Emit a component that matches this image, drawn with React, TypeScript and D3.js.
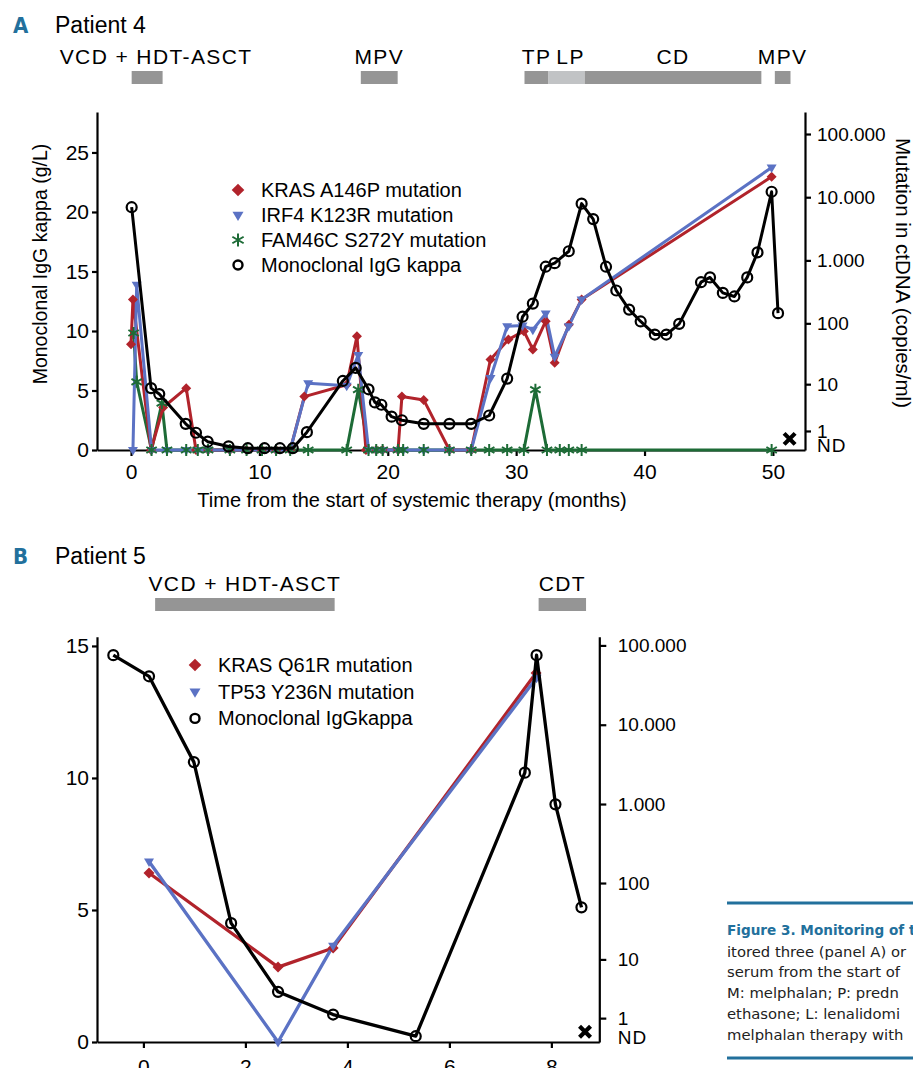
import * as d3 from 'd3';
import React, { useEffect, useRef } from 'react';

type Pt = [number, number];

// Patient 4 -- [month, value]; IgG kappa in g/L, mutations in copies/ml (0 = ND)
const igKappaA: Pt[] = [
    [0.05, 20.4], [1.56, 5.2], [2.2, 4.7], [4.26, 2.2], [5.06, 1.45], [5.97, 0.7],
    [7.6, 0.3], [9.1, 0.15], [10.4, 0.15], [11.6, 0.15], [12.6, 0.15], [13.7, 1.5],
    [16.5, 5.8], [17.5, 6.9], [18.5, 5.1], [19.0, 4.0], [19.5, 3.8], [20.3, 2.8],
    [21.1, 2.5], [22.8, 2.2], [24.8, 2.2], [26.5, 2.2], [27.9, 2.9], [29.3, 6.0],
    [30.5, 11.2], [31.3, 12.3], [32.3, 15.4], [33.0, 15.7], [34.1, 16.7], [35.1, 20.7],
    [36.0, 19.4], [37.0, 15.4], [37.8, 13.4], [38.8, 11.8], [39.7, 10.8], [40.8, 9.7],
    [41.7, 9.7], [42.7, 10.6], [44.4, 14.1], [45.1, 14.5], [46.1, 13.2], [47.0, 12.9],
    [48.0, 14.5], [48.8, 16.6], [49.9, 21.7], [50.4, 11.5],
];
const krasA146P: Pt[] = [
    [0.0, 46], [0.15, 240], [1.56, 0], [2.5, 3.7], [4.3, 8.5], [5.06, 0], [6.0, 0],
    [7.7, 0], [9.0, 0], [10.2, 0], [11.3, 0], [12.4, 0], [13.5, 6.0], [16.8, 9.8],
    [17.6, 62], [18.3, 0], [19.1, 0], [19.6, 0], [20.8, 0], [21.1, 6.0], [22.8, 5.2],
    [24.8, 0], [26.5, 0], [28.0, 26], [29.4, 55], [30.6, 75], [31.3, 38], [32.3, 108],
    [33.0, 23], [34.1, 95], [35.1, 240], [49.9, 21000],
];
const irf4K123R: Pt[] = [
    [0.15, 0], [0.44, 410], [1.6, 0], [2.8, 0], [4.3, 0], [5.2, 0], [6.0, 0], [7.7, 0],
    [9.0, 0], [10.2, 0], [11.3, 0], [12.4, 0], [13.8, 10.4], [16.8, 9.4], [17.7, 31],
    [18.5, 0], [19.1, 0], [19.6, 0], [20.8, 0], [21.2, 0], [22.8, 0], [24.8, 0], [26.5, 0],
    [28.0, 12.8], [29.3, 90], [30.5, 92], [31.3, 79], [32.3, 143], [33.0, 29], [34.1, 90],
    [35.1, 240], [49.9, 29500],
];
const fam46cS272Y: Pt[] = [
    [0.2, 70], [0.44, 11], [1.6, 0], [2.4, 4.5], [2.8, 0], [4.3, 0], [5.2, 0], [6.0, 0],
    [7.7, 0], [9.0, 0], [10.2, 0], [11.3, 0], [12.4, 0], [13.8, 0], [16.8, 0], [17.7, 8],
    [18.5, 0], [19.1, 0], [19.6, 0], [20.8, 0], [21.2, 0], [22.8, 0], [24.8, 0], [26.5, 0],
    [27.9, 0], [29.3, 0], [30.6, 0], [31.5, 8], [32.4, 0], [33.4, 0], [34.1, 0], [35.1, 0],
    [49.9, 0],
];
const deathA: Pt = [51.3, 0.5];

// Patient 5
const igKappaB: Pt[] = [
    [-0.59, 14.65], [0.11, 13.85], [0.99, 10.6], [1.72, 4.5], [2.64, 1.9], [3.72, 1.04],
    [5.34, 0.22], [7.48, 10.2], [7.71, 14.65], [8.08, 9.0], [8.59, 5.1],
];
const krasQ61R: Pt[] = [[0.11, 134], [2.64, 7.8], [3.72, 14.3], [7.7, 45000]];
const tp53Y236N: Pt[] = [[0.11, 188], [2.64, 0], [3.72, 15.4], [7.71, 39000]];
const deathB: Pt = [8.66, 0.35];

// therapy blocks: label, start month, end month
const therapiesA: [string, number, number][] = [
    ['VCD + HDT-ASCT', 0.05, 2.46],
    ['MPV', 17.9, 20.77],
    ['TP', 30.65, 32.52],
    ['LP', 32.52, 35.34],
    ['CD', 35.34, 49.1],
    ['MPV', 50.15, 51.37],
];
const therapiesB: [string, number, number][] = [
    ['VCD + HDT-ASCT', 0.23, 3.75],
    ['CDT', 7.75, 8.68],
];

const monthTicksA = [0, 10, 20, 30, 40, 50];
const monthTicksB = [0, 2, 4, 6, 8];
const igTicksA = [0, 5, 10, 15, 20, 25];
const igTicksB = [0, 5, 10, 15];
const copyTicks = [1, 10, 100, 1000, 10000, 100000];

const legendA = ['KRAS A146P mutation', 'IRF4 K123R mutation', 'FAM46C S272Y mutation', 'Monoclonal IgG kappa'];
const legendB = ['KRAS Q61R mutation', 'TP53 Y236N mutation', 'Monoclonal IgGkappa'];

const captionTitle = 'Figure 3. Monitoring of t';
const captionLines = [
    'itored three (panel A) or',
    'serum from the start of',
    'M: melphalan; P: predn',
    'ethasone; L: lenalidomi',
    'melphalan therapy with',
];

const App = () => {
    const svgRef = useRef<SVGSVGElement>(null);

    useEffect(() => {
        const svg = d3.select(svgRef.current);
        svg.selectAll('*').remove();

        const font = "'Liberation Sans', Arial, Helvetica, sans-serif";
        const red = '#b1232b';
        const blue = '#5b72c4';
        const green = '#1d6b36';
        const teal = '#22709c';
        const barGray = '#959595';
        const barLight = '#c1c3c5';

        const dotFmt = d3.formatLocale({ decimal: ',', thousands: '.', grouping: [3], currency: ['', ''] }).format(',');

        const shapes: any = {
            diamond: (s: number) => `M0,${-s}L${s},0L0,${s}L${-s},0Z`,
            triangle: (s: number) => `M${-s},${-s * 0.6}L${s},${-s * 0.6}L0,${s * 1.1}Z`,
            // six-armed asterisk
            star: (s: number) => d3.range(3).map(i => {
                const a = (90 + i * 60) * Math.PI / 180;
                const dx = (s * Math.cos(a)).toFixed(2);
                const dy = (s * Math.sin(a)).toFixed(2);
                return `M${-dx},${-dy}L${dx},${dy}`;
            }).join(''),
            cross: (s: number) => `M${-s},${-s}L${s},${s}M${s},${-s}L${-s},${s}`,
        };

        const styleAxis = (g: any, size: number) => {
            g.selectAll('path, line').attr('stroke', '#000').attr('stroke-width', 2.2);
            g.selectAll('text').attr('font-family', font).attr('font-size', size).attr('fill', '#000');
        };

        const paintMarker = (sel: any, shape: string, color: string, size: number) => {
            sel.attr('d', shapes[shape](size));
            if (shape === 'star') sel.attr('fill', 'none').attr('stroke', color).attr('stroke-width', 2);
            else sel.attr('fill', color).attr('stroke', 'none');
        };

        const drawPanel = (cfg: any) => {
            const { x, yL, yR } = cfg;
            const g = svg.append('g');
            const [x0, x1] = x.range();
            const yBase = yL.range()[0];

            g.append('text')
                .attr('x', 13).attr('y', cfg.titleY)
                .attr('font-family', "'Liberation Sans Narrow', 'DejaVu Sans Condensed', sans-serif")
                .attr('font-weight', 'bold').attr('font-size', 22).attr('fill', teal)
                .text(cfg.letter);
            g.append('text')
                .attr('x', 55).attr('y', cfg.titleY)
                .attr('font-family', font).attr('font-size', 23)
                .text(cfg.patient);

            // therapy bars
            cfg.therapies.forEach(([label, s, e]: [string, number, number]) => {
                g.append('rect')
                    .attr('x', x(s)).attr('y', cfg.barY)
                    .attr('width', x(e) - x(s)).attr('height', 13)
                    .attr('fill', label === 'LP' ? barLight : barGray);
                g.append('text')
                    .attr('x', (x(s) + x(e)) / 2 + (cfg.nudge[label] || 0))
                    .attr('y', cfg.barY - 7)
                    .attr('text-anchor', 'middle')
                    .attr('font-family', font).attr('font-size', 21)
                    .attr('letter-spacing', 1.4)
                    .text(label);
            });

            // axes
            g.append('g')
                .attr('transform', `translate(0,${yBase})`)
                .call(d3.axisBottom(x).tickValues(cfg.xTicks).tickSize(6).tickSizeOuter(0)
                    .tickPadding(cfg.xPad).tickFormat(d3.format('d')))
                .call((a: any) => styleAxis(a, 21));
            g.append('g')
                .attr('transform', `translate(${x0},0)`)
                .call(d3.axisLeft(yL).tickValues(cfg.yLTicks).tickSize(5).tickSizeOuter(0).tickPadding(3))
                .call((a: any) => styleAxis(a, 21));
            g.append('g')
                .attr('transform', `translate(${x1},0)`)
                .call(d3.axisRight(yR).tickValues(copyTicks).tickFormat(dotFmt)
                    .tickSize(cfg.rTick).tickSizeOuter(0).tickPadding(cfg.rPad))
                .call((a: any) => styleAxis(a, 19));
            g.append('text')
                .attr('x', x1 + cfg.rTick + cfg.rPad).attr('y', yR(0) - 5)
                .attr('dy', '0.35em')
                .attr('font-family', font).attr('font-size', 19).attr('letter-spacing', 1)
                .text('ND');

            // mutation series (right axis)
            const mutLine = d3.line<Pt>().x(d => x(d[0])).y(d => yR(d[1]));
            cfg.mutations.forEach((m: any) => {
                g.append('path')
                    .attr('d', mutLine(m.data))
                    .attr('fill', 'none').attr('stroke', m.color)
                    .attr('stroke-width', cfg.lineW).attr('stroke-linejoin', 'round');
            });
            [...cfg.mutations].sort((a: any, b: any) => (a.shape === 'star' ? 1 : 0) - (b.shape === 'star' ? 1 : 0))
                .forEach((m: any) => {
                    g.append('g').selectAll('path')
                        .data(m.data)
                        .join('path')
                        .attr('transform', (d: any) => `translate(${x(d[0])},${yR(d[1])})`)
                        .call((sel: any) => paintMarker(sel, m.shape, m.color, m.size));
                });

            // monoclonal IgG kappa (left axis)
            const igLine = d3.line<Pt>().x(d => x(d[0])).y(d => yL(d[1]));
            g.append('path')
                .attr('d', igLine(cfg.ig))
                .attr('fill', 'none').attr('stroke', '#000')
                .attr('stroke-width', cfg.lineW).attr('stroke-linejoin', 'round');
            g.append('g').selectAll('circle')
                .data(cfg.ig)
                .join('circle')
                .attr('cx', (d: any) => x(d[0]))
                .attr('cy', (d: any) => yL(d[1]))
                .attr('r', 5)
                .attr('fill', 'none').attr('stroke', '#000').attr('stroke-width', 2.2);

            g.append('path')
                .attr('transform', `translate(${x(cfg.death[0])},${yR(cfg.death[1])})`)
                .attr('d', shapes.cross(5.5))
                .attr('stroke', '#000').attr('stroke-width', 4.2);

            // legend
            const lg = g.append('g');
            const legendShapes = [...cfg.mutations.map((m: any) => [m.shape, m.color]), ['circle', '#000']];
            const order = cfg.legendOrder.map((i: number) => legendShapes[i]);
            cfg.legend.forEach((label: string, i: number) => {
                const y = cfg.legendY + i * cfg.legendStep;
                const [shape, color] = order[i];
                if (shape === 'circle') {
                    lg.append('circle').attr('cx', cfg.legendX).attr('cy', y - 7).attr('r', 4.5)
                        .attr('fill', 'none').attr('stroke', '#000').attr('stroke-width', 2.4);
                } else {
                    lg.append('path')
                        .attr('transform', `translate(${cfg.legendX},${y - 7})`)
                        .call((sel: any) => paintMarker(sel, shape, color, shape === 'diamond' ? 6.3 : shape === 'star' ? 6.5 : 5.5));
                }
                lg.append('text')
                    .attr('x', cfg.legendX + 23).attr('y', y)
                    .attr('font-family', font).attr('font-size', 20)
                    .text(label);
            });
            return g;
        };

        // Panel A
        const xA = d3.scaleLinear().domain([-2.65, 52.5]).range([97, 805]);
        const yLA = d3.scaleLinear().domain([0, 28.4]).range([450, 112]);
        const yRA = d3.scaleSymlog().constant(1).domain([0, 223000]).range([450, 112]);
        const gA = drawPanel({
            letter: 'A', patient: 'Patient 4', titleY: 33,
            therapies: therapiesA, barY: 71, nudge: { 'VCD + HDT-ASCT': 9, LP: 4 },
            x: xA, yL: yLA, yR: yRA,
            xTicks: monthTicksA, yLTicks: igTicksA, xPad: 8, rTick: 6, rPad: 6,
            lineW: 3,
            mutations: [
                { data: fam46cS272Y, color: green, shape: 'star', size: 6 },
                { data: krasA146P, color: red, shape: 'diamond', size: 5 },
                { data: irf4K123R, color: blue, shape: 'triangle', size: 5 },
            ],
            legendOrder: [1, 2, 0, 3],
            ig: igKappaA, death: deathA,
            legend: legendA, legendX: 238, legendY: 197, legendStep: 25,
        });
        gA.append('text')
            .attr('x', 412).attr('y', 507).attr('text-anchor', 'middle')
            .attr('font-family', font).attr('font-size', 20)
            .text('Time from the start of systemic therapy (months)');
        gA.append('text')
            .attr('transform', 'translate(47,264) rotate(-90)').attr('text-anchor', 'middle')
            .attr('font-family', font).attr('font-size', 19.5)
            .text('Monoclonal IgG kappa (g/L)');
        gA.append('text')
            .attr('transform', 'translate(896,273) rotate(90)').attr('text-anchor', 'middle')
            .attr('font-family', font).attr('font-size', 20.5)
            .text('Mutation in ctDNA (copies/ml)');

        // Panel B
        const xB = d3.scaleLinear().domain([-0.91, 8.94]).range([97, 599.3]);
        const yLB = d3.scaleLinear().domain([0, 15.35]).range([1042, 636.7]);
        const yRB = d3.scaleSymlog().constant(1).domain([0, 128825]).range([1042, 636.7]);
        drawPanel({
            letter: 'B', patient: 'Patient 5', titleY: 564,
            therapies: therapiesB, barY: 598, nudge: {},
            x: xB, yL: yLB, yR: yRB,
            xTicks: monthTicksB, yLTicks: igTicksB, xPad: 11, rTick: 7, rPad: 11.5,
            lineW: 3.3,
            mutations: [
                { data: krasQ61R, color: red, shape: 'diamond', size: 5.5 },
                { data: tp53Y236N, color: blue, shape: 'triangle', size: 5 },
            ],
            legendOrder: [0, 1, 2],
            ig: igKappaB, death: deathB,
            legend: legendB, legendX: 195, legendY: 672, legendStep: 26.7,
        });

        // caption (cropped at the page edge)
        const cap = svg.append('g');
        cap.append('line').attr('x1', 727).attr('x2', 913).attr('y1', 903).attr('y2', 903)
            .attr('stroke', teal).attr('stroke-width', 3);
        cap.append('line').attr('x1', 727).attr('x2', 913).attr('y1', 1058).attr('y2', 1058)
            .attr('stroke', teal).attr('stroke-width', 3);
        cap.append('text')
            .attr('x', 727).attr('y', 935)
            .attr('font-family', "'DejaVu Sans', sans-serif").attr('font-weight', 'bold')
            .attr('font-size', 13.6).attr('fill', teal)
            .text(captionTitle);
        cap.selectAll('text.line')
            .data(captionLines)
            .join('text')
            .attr('class', 'line')
            .attr('x', 727)
            .attr('y', (d, i) => 956.5 + i * 20.9)
            .attr('font-family', "'DejaVu Sans', sans-serif")
            .attr('font-size', 14.8).attr('fill', '#222')
            .text(d => d);
    }, []);

    return (
        <svg ref={svgRef} width={913} height={1068}
            style={{ position: 'absolute', left: 0, top: 0, background: '#fff' }}></svg>
    );
};

export default App;
